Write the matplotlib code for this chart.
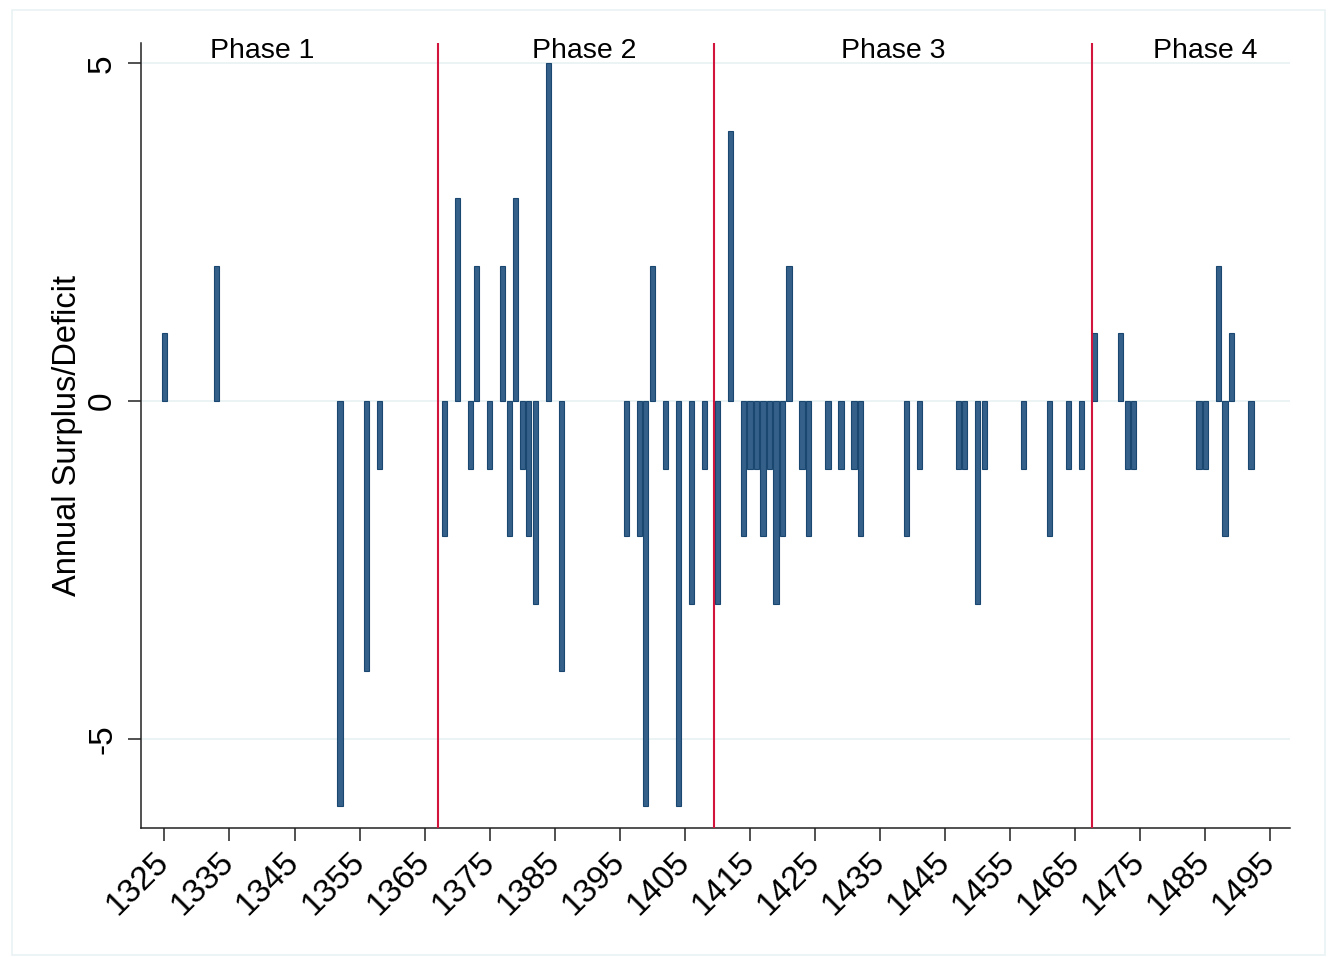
import matplotlib
matplotlib.use("Agg")
import matplotlib.pyplot as plt
from matplotlib.patches import Rectangle

plt.rcParams['font.family'] = ['Liberation Sans', 'DejaVu Sans']

# yearly surplus / deficit
years = [1325, 1333, 1352, 1356, 1358,
         1368, 1370, 1372, 1373, 1375, 1377, 1378, 1379, 1380, 1381, 1382, 1384, 1386,
         1396, 1398, 1399, 1400, 1402, 1404, 1406, 1408,
         1410, 1412, 1414, 1415, 1416, 1417, 1418, 1419, 1420, 1421, 1423, 1424,
         1427, 1429, 1431, 1432, 1439, 1441, 1447, 1448, 1450, 1451, 1457, 1461,
         1464, 1466,
         1468, 1472, 1473, 1474, 1484, 1485, 1487, 1488, 1489, 1492]
values = [1, 2, -6, -4, -1,
          -2, 3, -1, 2, -1, 2, -2, 3, -1, -2, -3, 5, -4,
          -2, -2, -6, 2, -1, -6, -3, -1,
          -3, 4, -2, -1, -1, -2, -1, -3, -2, 2, -1, -2,
          -1, -1, -1, -2, -2, -1, -1, -1, -3, -1, -1, -2,
          -1, -1,
          1, 1, -1, -1, -1, -1, 2, -2, 1, -1]

phase_breaks = [1367, 1409.5, 1467.5]
phase_names = ["Phase 1", "Phase 2", "Phase 3", "Phase 4"]
phase_label_x = [1340, 1389.5, 1437, 1485]
xticks = list(range(1325, 1496, 10))
yticks = [-5, 0, 5]

fig = plt.figure(figsize=(13.3, 9.57), dpi=100)
fig.patches.append(Rectangle((12 / 1330, 2 / 957), 1313 / 1330, 945 / 957,
                             transform=fig.transFigure, fill=False,
                             edgecolor="#eaf2f3", linewidth=1.2))
ax = fig.add_axes([141 / 1330, (957 - 828) / 957, 1149 / 1330, 785 / 957])

for y in yticks:
    ax.axhline(y, color="#eaf2f3", linewidth=1.3, zorder=0)

ax.bar(years, values, width=0.8, color="#35608a", edgecolor="#1a476f",
       linewidth=0.8, zorder=2)

for b in phase_breaks:
    ax.axvline(b, color="#d2153d", linewidth=1.5, zorder=3)

for name, px in zip(phase_names, phase_label_x):
    ax.text(px, 4.99, name, ha="center", va="bottom", fontsize=20.5)

ax.set_xlim(1321.4, 1498)
ax.set_ylim(-6.32, 5.3)
ax.set_xticks(xticks)
ax.set_xticklabels([str(t) for t in xticks], rotation=45, ha="right",
                   va="center", rotation_mode="anchor", fontsize=24)
ax.set_yticks(yticks)
ax.set_yticklabels([str(t) for t in yticks], rotation=90, va="center",
                   fontsize=24)
ax.tick_params(axis="both", length=9.5, width=1.1, color="#222222")
ax.tick_params(axis="x", pad=12)
ax.tick_params(axis="y", pad=7)
for s in ["top", "right"]:
    ax.spines[s].set_visible(False)
for s in ["left", "bottom"]:
    ax.spines[s].set_linewidth(1.1)
    ax.spines[s].set_color("#222222")
ax.set_ylabel("Annual Surplus/Deficit", fontsize=23.5, labelpad=3)

fig.savefig("out.png", dpi=100, facecolor="white")
